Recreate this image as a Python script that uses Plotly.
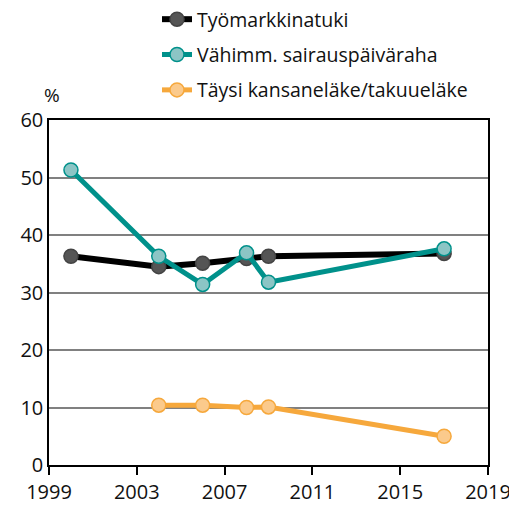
import plotly.graph_objects as go

years_tmt = [2000, 2004, 2006, 2008, 2009, 2017]
tmt = [36.3, 34.5, 35.1, 35.9, 36.3, 36.8]

years_sp = [2000, 2004, 2006, 2008, 2009, 2017]
sp = [51.3, 36.3, 31.4, 36.9, 31.8, 37.6]

years_kl = [2004, 2006, 2008, 2009, 2017]
kl = [10.4, 10.4, 10.0, 10.1, 5.0]

x_ticks = [1999, 2003, 2007, 2011, 2015, 2019]
y_ticks = [0, 10, 20, 30, 40, 50, 60]

OFF = 8  # page body margin
W, H = 517 - OFF, 506 - OFF
ML, MR, MT, MB = 49 - OFF, 29, 120 - OFF, 41
PW = W - ML - MR
PH = H - MT - MB


def px_x(page_x):
    return (page_x - OFF - ML) / PW


def px_y(page_y):
    return (H - MB - (page_y - OFF)) / PH


fig = go.Figure()
fig.add_trace(go.Scatter(
    x=years_tmt, y=tmt, name="Työmarkkinatuki", mode="lines+markers",
    legendgroup="a",
    line=dict(color="#000000", width=6),
    marker=dict(size=14, color="#555555", line=dict(color="#444444", width=1.5)),
))
fig.add_trace(go.Scatter(
    x=years_sp, y=sp, name="Vähimm. sairauspäiväraha", mode="lines+markers",
    legendgroup="b",
    line=dict(color="#00918b", width=5),
    marker=dict(size=14, color="#8cc5c5", line=dict(color="#00918b", width=1.5)),
))
fig.add_trace(go.Scatter(
    x=years_kl, y=kl, name="Täysi kansaneläke/takuueläke", mode="lines+markers",
    legendgroup="c",
    line=dict(color="#f6a83c", width=5),
    marker=dict(size=14, color="#fbca8c", line=dict(color="#f6a83c", width=1.5)),
))

fig.update_layout(
    width=W, height=H,
    margin=dict(l=ML, r=MR, t=MT, b=MB, autoexpand=False),
    paper_bgcolor="white", plot_bgcolor="white",
    font=dict(family="Open Sans", size=20, color="#111111"),
    showlegend=True,
    legend=dict(
        x=px_x(157), y=px_y(0),
        xanchor="left", yanchor="top",
        bgcolor="rgba(0,0,0,0)", font=dict(size=19.5),
        itemwidth=30, tracegroupgap=7, traceorder="grouped",
    ),
    xaxis=dict(
        range=[1999, 2019], tickvals=x_ticks, ticktext=[str(v) for v in x_ticks],
        showgrid=False, zeroline=False, showline=True, linecolor="#000000",
        linewidth=1.5, mirror=True, ticks="outside", ticklen=8, tickcolor="#000000",
        tickwidth=1.5, tickfont=dict(size=20),
    ),
    yaxis=dict(
        range=[0, 60], tickvals=y_ticks, showgrid=True, gridcolor="#808080",
        gridwidth=1.5, zeroline=False, showline=True, linecolor="#000000",
        linewidth=1.5, mirror=True, ticks="", tickfont=dict(size=20),
    ),
    annotations=[dict(
        text="%", x=px_x(52), y=px_y(95), xanchor="center", yanchor="middle",
        xref="paper", yref="paper", showarrow=False, font=dict(size=19),
    )],
)

fig.write_html("out.html")
